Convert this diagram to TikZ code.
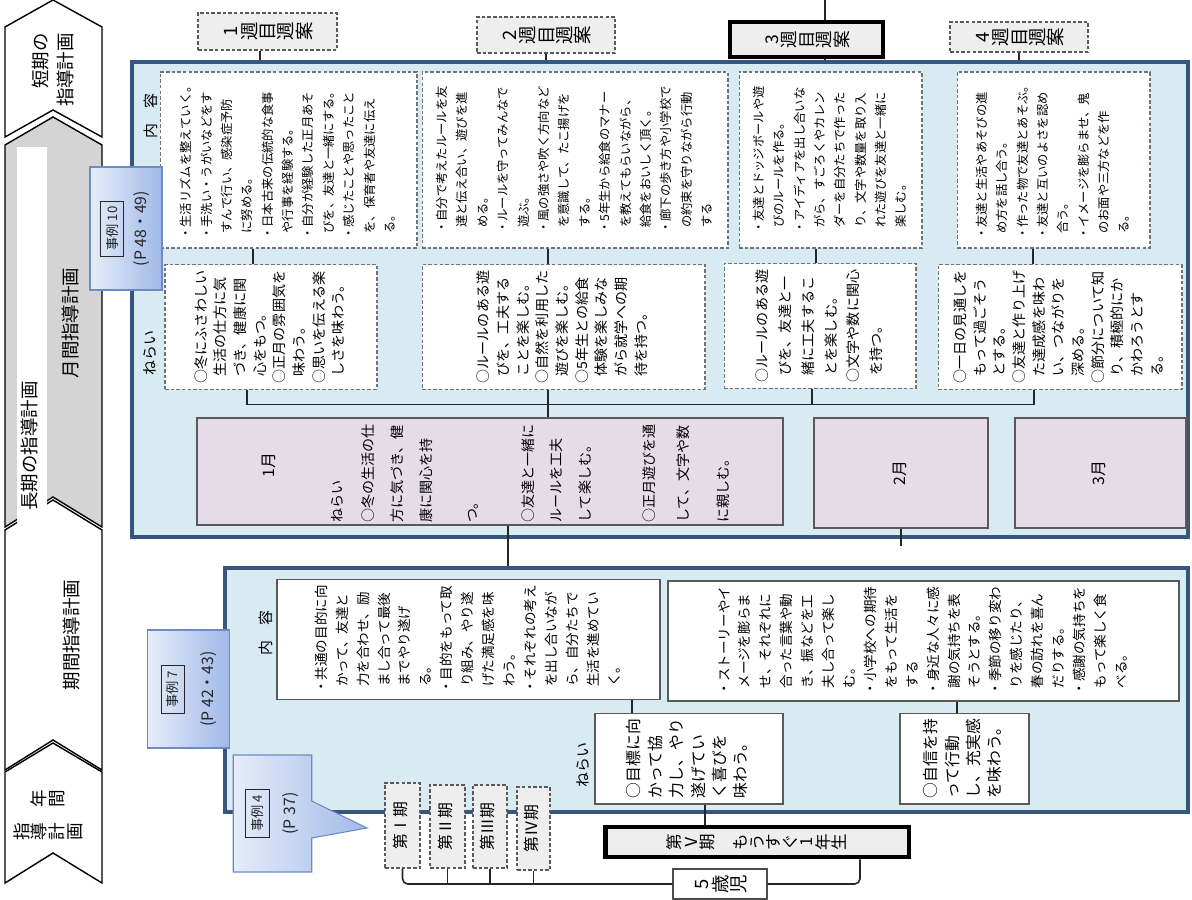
\documentclass[tikz,border=0pt]{standalone}
\usepackage{fontspec}
\setmainfont{Noto Sans CJK JP}
\usepackage{graphicx}
\usepackage{tikz}
\usetikzlibrary{shapes.callouts}
\usetikzlibrary{positioning}

\definecolor{panelfill}{RGB}{216,234,242}
\definecolor{panelline}{RGB}{55,85,125}
\definecolor{monthfill}{RGB}{229,220,232}
\definecolor{callL}{RGB}{230,237,250}
\definecolor{callR}{RGB}{160,185,232}
\definecolor{callline}{RGB}{110,140,196}
\definecolor{planfill}{RGB}{238,238,238}
\definecolor{stripgray}{RGB}{212,212,212}

\newcommand\indt{\hspace*{0.5em}}
\newcommand\vtxt[2][l]{\rotatebox{90}{\begin{tabular}{@{}#1@{}}#2\end{tabular}}}
\ExplSyntaxOn
\NewDocumentCommand\tate{m}{\tl_map_inline:nn{#1}{\rotatebox{90}{\rule[-0.12em]{0pt}{1em}\makebox[1em]{##1}}}}
\ExplSyntaxOff

\tikzset{
  strip/.style={draw=black,line width=0.8pt,fill=white},
  striplbl/.style={inner sep=0pt,text=black,font=\fontsize{10.5}{14.5}\selectfont},
  panel/.style={draw=panelline,line width=2.2pt,fill=panelfill},
  plan/.style={draw=black!65,dash pattern=on 2pt off 1.2pt,line width=0.7pt,fill=planfill,font=\fontsize{10.5}{12}\selectfont},
  planbold/.style={draw=black,line width=2.4pt,fill=planfill,font=\fontsize{10}{12}\selectfont},
  wkbox/.style={draw=black!55,dash pattern=on 2pt off 1.2pt,line width=0.6pt,fill=white,text=black,font=\fontsize{7}{11.6}\selectfont},
  aimbox/.style={wkbox,font=\fontsize{8}{11.2}\selectfont},
  mbox/.style={draw=black!65,line width=0.8pt,fill=monthfill,text=black,font=\fontsize{9}{12}\selectfont},
  mtxt/.style={inner sep=0pt,text=black,font=\fontsize{8}{16.4}\selectfont},
  seclbl/.style={inner sep=0pt,text=black,font=\fontsize{8.5}{10}\selectfont},
  tbox/.style={draw=black!65,line width=0.7pt,fill=white,text=black,font=\fontsize{7.7}{11.9}\selectfont},
  tabox/.style={tbox,font=\fontsize{9}{12.2}\selectfont},
  termbox/.style={draw=black!65,dash pattern=on 2pt off 1.2pt,line width=0.7pt,fill=planfill,font=\fontsize{9}{11}\selectfont},
  agebox/.style={draw=black!70,line width=0.8pt,fill=white,font=\fontsize{10.5}{12}\selectfont},
  callbox/.style={draw=callline,line width=0.6pt,left color=callL,right color=callR,text=black!85,font=\fontsize{9}{17}\selectfont},
  conn/.style={draw=black!85,line width=0.9pt}
}

\begin{document}
\begin{tikzpicture}[x=0.02cm,y=-0.02cm]
\useasboundingbox (0,0) rectangle (1192,899);

\draw[strip] (5,27) -- (53,0) -- (102,27) -- (102,137) -- (53,110) -- (5,137) -- cycle;
\draw[strip,fill=stripgray] (5,145) -- (53,117) -- (102,145) -- (102,527) -- (53,497) -- (5,527) -- cycle;
\draw[strip] (5,530) -- (53,500) -- (102,530) -- (102,770) -- (53,740) -- (5,770) -- cycle;
\draw[strip] (5,772) -- (53,743) -- (102,772) -- (102,883) -- (53,853) -- (5,883) -- cycle;
\fill[white] (17,147) rectangle (47,524);
\node[striplbl] (short) at (55,70) {\vtxt[r]{短期の\\指導計画}};
\node[striplbl] (monthly) at (72,323) {\vtxt{月間指導計画}};
\node[striplbl] (longterm) at (31,446) {\vtxt{長期の指導計画}};
\node[striplbl] (termly) at (73,635) {\vtxt{期間指導計画}};
\node[striplbl,align=center,font=\fontsize{10}{19}\selectfont] (annual) at (48,815) {\tate{年間}\\\tate{指導計画}};

\node[panel,minimum width=21.12cm,minimum height=9.5cm] (mpanel) at (660,299.5) {};
\node[panel,minimum width=19.26cm,minimum height=4.88cm] (lpanel) at (706.5,690) {};

\node[plan,minimum width=2.78cm,minimum height=0.74cm] (wp1) at (267.5,31.5) {\tate{1週目週案}};
\node[plan,minimum width=2.76cm,minimum height=0.72cm] (wp2) at (546,35) {\tate{2週目週案}};
\node[planbold,minimum width=3.06cm,minimum height=0.7cm] (wp3) at (806.5,39.5) {\tate{3週目週案}};
\node[plan,minimum width=2.76cm,minimum height=0.6cm] (wp4) at (1019,37) {\tate{4週目週案}};
\coordinate (wp3top) at (825,0);

\node[seclbl] (cont1) at (153,116) {\vtxt{内　容}};
\node[seclbl] (aim1) at (152,353) {\vtxt{ねらい}};

\node[wkbox,minimum width=5.14cm,minimum height=3.52cm] (w1c) at (288.5,160) {\vtxt{・生活リズムを整えていく。\\・手洗い・うがいなどをす\\\indt すんで行い、感染症予防\\\indt に努める。\\・日本古来の伝統的な食事\\\indt や行事を経験する。\\・自分が経験した正月あそ\\\indt びを、友達と一緒にする。\\・感じたことや思ったこと\\\indt を、保育者や友達に伝え\\\indt る。}};
\node[wkbox,minimum width=6.12cm,minimum height=3.52cm] (w2c) at (575,160) {\vtxt{・自分で考えたルールを友\\\indt 達と伝え合い、遊びを進\\\indt める。\\・ルールを守ってみんなで\\\indt 遊ぶ。\\・風の強さや吹く方向など\\\indt を意識して、たこ揚げを\\\indt する。\\・5年生から給食のマナー\\\indt を教えてもらいながら、\\\indt 給食をおいしく頂く。\\・廊下の歩き方や小学校で\\\indt の約束を守りながら行動\\\indt する}};
\node[wkbox,minimum width=3.66cm,minimum height=3.52cm] (w3c) at (830.5,160) {\vtxt{・友達とドッジボールや遊\\\indt びのルールを作る。\\・アイディアを出し合いな\\\indt がら、すごろくやカレン\\\indt ダーを自分たちで作った\\\indt り、文字や数量を取り入\\\indt れた遊びを友達と一緒に\\\indt 楽しむ。}};
\node[wkbox,minimum width=3.86cm,minimum height=3.52cm] (w4c) at (1053.5,160) {\vtxt{・友達と生活やあそびの進\\\indt め方を話し合う。\\・作った物で友達とあそぶ。\\・友達と互いのよさを認め\\\indt 合う。\\・イメージを膨らませ、鬼\\\indt のお面や三方などを作\\\indt る。}};

\node[aimbox,minimum width=4.24cm,minimum height=2.4cm] (w1a) at (271,327) {\vtxt{○冬にふさわしい\\\indt 生活の仕方に気\\\indt づき、健康に関\\\indt 心をもつ。\\○正月の雰囲気を\\\indt 味わう。\\○思いを伝える楽\\\indt しさを味わう。}};
\node[aimbox,minimum width=5.66cm,minimum height=2.4cm] (w2a) at (563.5,327) {\vtxt{○ルールのある遊\\\indt びを、工夫する\\\indt ことを楽しむ。\\○自然を利用した\\\indt 遊びを楽しむ。\\○5年生との給食\\\indt 体験を楽しみな\\\indt がら就学への期\\\indt 待を持つ。}};
\node[aimbox,minimum width=3.84cm,minimum height=2.4cm,font=\fontsize{8}{13}\selectfont] (w3a) at (820,326) {\vtxt{○ルールのある遊\\\indt びを、友達と一\\\indt 緒に工夫するこ\\\indt とを楽しむ。\\○文字や数に関心\\\indt を持つ。}};
\node[aimbox,minimum width=4.88cm,minimum height=2.4cm] (w4a) at (1060,327) {\vtxt{○一日の見通しを\\\indt もって過ごそう\\\indt とする。\\○友達と作り上げ\\\indt た達成感を味わ\\\indt い、つながりを\\\indt 深める。\\○節分について知\\\indt り、積極的にか\\\indt かわろうとす\\\indt る。}};

\node[mbox,minimum width=11.72cm,minimum height=2.14cm] (m1) at (490,471.5) {};
\node[mtxt,font=\fontsize{9}{12}\selectfont] (m1t) at (270,465) {\vtxt{1月}};
\node[mtxt,anchor=south west] (m1a) at (322,523) {\vtxt{ねらい\\[1.5pt]○冬の生活の仕\\方に気づき、健\\康に関心を持\\[10pt]つ。\\[15pt]○友達と一緒に\\ルールを工夫\\して楽しむ。\\[20pt]○正月遊びを通\\[3pt]して、文字や数\\[6pt]に親しむ。}};
\node[mbox,minimum width=3.48cm,minimum height=2.2cm] (m2) at (901,473) {\vtxt{2月}};
\node[mbox,minimum width=3.42cm,minimum height=2.2cm] (m3) at (1100.5,473) {\vtxt{3月}};

\node[callbox,minimum width=1.44cm,minimum height=2.46cm] (ex10) at (126,228.5) {\vtxt[c]{\fbox{\fontsize{7.5}{9}\selectfont 事例 10}\\(P 48・49)}};

\node[seclbl] (cont2) at (268,633) {\vtxt{内　容}};
\node[tbox,minimum width=7.66cm,minimum height=2.3cm] (lc1) at (468.5,639.5) {\vtxt{・共通の目的に向\\\indt かって、友達と\\\indt 力を合わせ、励\\\indt まし合って最後\\\indt までやり遂げ\\\indt る。\\・目的をもって取\\\indt り組み、やり遂\\\indt げた満足感を味\\\indt わう。\\・それぞれの考え\\\indt を出し合いなが\\\indt ら、自分たちで\\\indt 生活を進めてい\\\indt く。}};
\node[tbox,minimum width=10.22cm,minimum height=2.36cm] (lc2) at (923.5,641) {\vtxt{・ストーリーやイ\\\indt メージを膨らま\\\indt せ、それぞれに\\\indt 合った言葉や動\\\indt き、振などを工\\\indt 夫し合って楽し\\\indt む。\\・小学校への期待\\\indt をもって生活を\\\indt する\\・身近な人々に感\\\indt 謝の気持ちを表\\\indt そうとする。\\・季節の移り変わ\\\indt りを感じたり、\\\indt 春の訪れを喜ん\\\indt だりする。\\・感謝の気持ちを\\\indt もって楽しく食\\\indt べる。}};
\node[seclbl] (aim2) at (585,765) {\vtxt{ねらい}};
\node[tabox,minimum width=3.76cm,minimum height=1.74cm] (la1) at (689,758.5) {\vtxt{○目標に向\\かって協\\力し、やり\\遂げてい\\く喜びを\\味わう。}};
\node[tabox,minimum width=2.58cm,minimum height=1.66cm] (la2) at (964.5,758.5) {\vtxt{○自信を持\\って行動\\し、充実感\\を味わう。}};

\node[callbox,minimum width=1.46cm,minimum height=2.36cm,font=\fontsize{9}{20}\selectfont] (ex7) at (188.5,689) {\vtxt[c]{\fbox{\fontsize{7.5}{9}\selectfont 事例 7}\\(P 42・43)}};
\node[callbox,rectangle callout,callout absolute pointer={(367,828)},callout pointer width=0.74cm,minimum width=1.5cm,minimum height=2.34cm,font=\fontsize{9}{19}\selectfont] (ex4) at (272.5,813.5) {\vtxt[c]{\fbox{\fontsize{7.5}{9}\selectfont 事例 4}\\(P 37)}};

\node[termbox,minimum width=0.7cm,minimum height=1.7cm] (t1) at (402.5,825.5) {\vtxt{第Ⅰ期}};
\node[termbox,minimum width=0.7cm,minimum height=1.66cm] (t2) at (447.5,826.5) {\vtxt{第Ⅱ期}};
\node[termbox,minimum width=0.68cm,minimum height=1.66cm] (t3) at (490,826.5) {\vtxt{第Ⅲ期}};
\node[termbox,minimum width=0.66cm,minimum height=1.66cm] (t4) at (533.5,828.5) {\vtxt{第Ⅳ期}};
\node[planbold,line width=2.8pt,minimum width=6.08cm,minimum height=0.6cm,font=\fontsize{9.4}{11}\selectfont] (t5) at (757,842) {\tate{第Ⅴ期　もうすぐ1年生}};
\node[agebox,minimum width=1.88cm,minimum height=0.56cm] (age) at (720,884) {\tate{5歳児}};

\draw[conn] (wp3top) -- (wp3.north -| wp3top);
\draw[conn] (wp1.south -| 260,0) -- (mpanel.north -| 260,0);
\draw[conn] (wp2.south) -- (wp2.south |- mpanel.north);
\draw[conn] (wp3.south -| wp3top) -- (mpanel.north -| wp3top);
\draw[conn] (wp4.south) -- (wp4.south |- mpanel.north);
\draw[conn] (w1c.south -| 253,0) -- (w1a.north -| 253,0);
\draw[conn] (w2c.south -| 548,0) -- (w2a.north -| 548,0);
\draw[conn] (w3c.south -| 816,0) -- (w3a.north -| 816,0);
\draw[conn] (w4c.south -| 1033,0) -- (w4a.north -| 1033,0);
\draw[conn] (w1a.south -| 247,0) -- ++(0,15) -| (w4a.south -| 1034,0);
\draw[conn] (w3a.south -| 812,0) -- ++(0,16);
\draw[conn] (w2a.south -| 548,0) -- (m1.north -| 548,0);
\draw[conn] (m1.south -| 508,0) -- (lpanel.north -| 508,0);
\draw[conn] (m2.south) -- ++(0,17);
\draw[conn] (lc1.south -| 632,0) -- (la1.north -| 632,0);
\draw[conn] (lc2.south -| 957,0) -- (la2.north -| 957,0);
\draw[conn] (la1.south -| 705,0) -- (t5.north -| 705,0);
\draw[conn,rounded corners=3pt] (age.east) -| (t5.south -| 860,0);
\draw[conn,rounded corners=3pt] (t1.south) |- (age.west);
\draw[conn] (t2.south) -- (t2.south |- age.west);
\draw[conn] (t3.south) -- (t3.south |- age.west);
\draw[conn] (t4.south) -- (t4.south |- age.west);
\end{tikzpicture}
\end{document}
